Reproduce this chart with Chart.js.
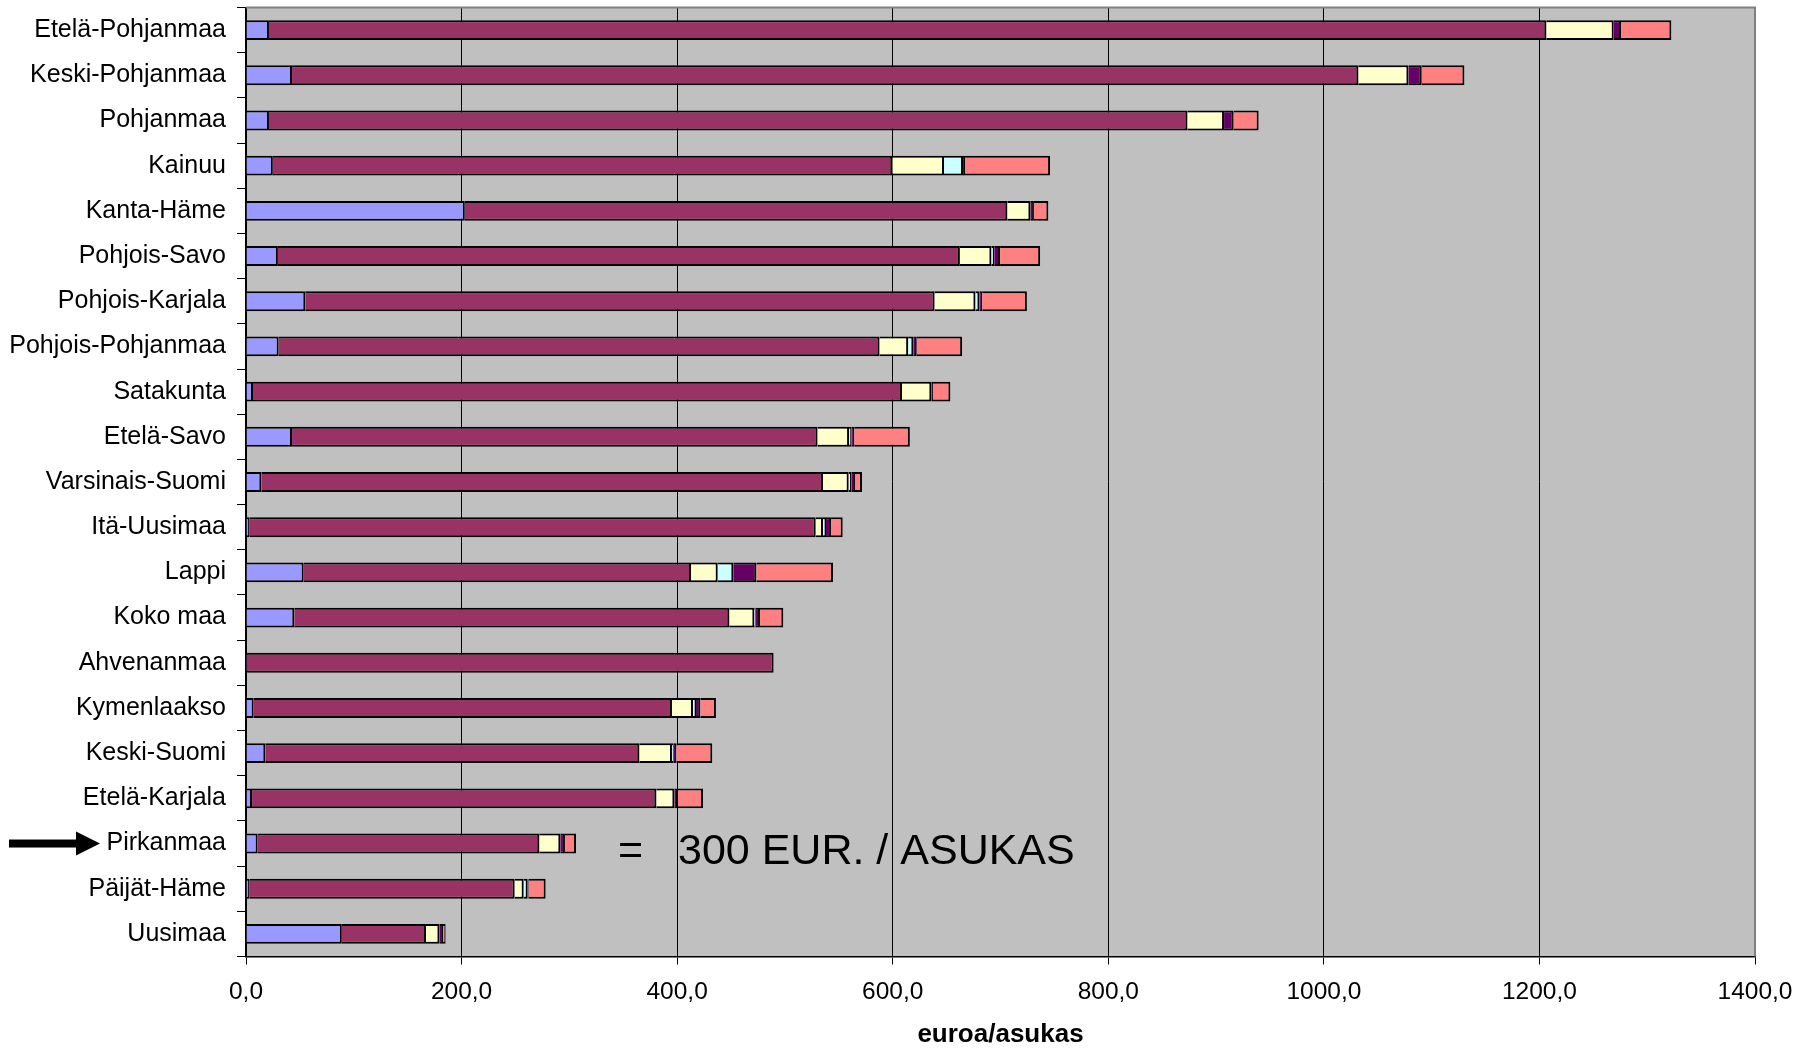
<!DOCTYPE html>
<html>
<head>
<meta charset="utf-8">
<script src="https://cdn.jsdelivr.net/npm/chart.js@4.4.0/dist/chart.umd.min.js"></script>
<style>
  body{ margin:0; background:#fff; }
  canvas{ display:block; }
</style>
</head>
<body>
<canvas id="myChart" width="1809" height="1050"></canvas>
<script>
// maakunnat, ylhäältä alas
const regions = [
  "Etelä-Pohjanmaa", "Keski-Pohjanmaa", "Pohjanmaa", "Kainuu", "Kanta-Häme",
  "Pohjois-Savo", "Pohjois-Karjala", "Pohjois-Pohjanmaa", "Satakunta", "Etelä-Savo",
  "Varsinais-Suomi", "Itä-Uusimaa", "Lappi", "Koko maa", "Ahvenanmaa",
  "Kymenlaakso", "Keski-Suomi", "Etelä-Karjala", "Pirkanmaa", "Päijät-Häme", "Uusimaa"
];

// euroa/asukas, luettu kuvasta
const sarja1 = [21.3, 42.7, 21.3, 24.9, 203.0, 29.6, 55.0, 30.3, 6.5, 42.7, 14.2, 3.4, 53.5, 44.8, 1.8, 7.1, 17.9, 5.6, 10.8, 3.4, 88.9];
const sarja2 = [1185.1, 989.3, 852.1, 574.7, 503.3, 632.7, 583.8, 557.4, 602.1, 487.5, 521.1, 525.1, 359.4, 403.6, 487.7, 388.1, 347.0, 375.1, 261.3, 245.8, 78.1];
const sarja3 = [62.5, 46.4, 34.0, 48.0, 21.4, 29.2, 37.9, 26.6, 27.2, 29.3, 23.8, 6.8, 24.7, 23.2, 0, 19.5, 30.3, 16.7, 19.5, 8.4, 12.4];
const sarja4 = [0, 0, 0, 17.6, 0, 2.7, 3.7, 4.8, 0, 2.1, 2.5, 2.8, 14.5, 1.2, 0, 2.8, 1.6, 0, 0, 3.7, 0];
const sarja5 = [6.8, 12.4, 8.9, 1.9, 3.3, 5.4, 2.6, 3.2, 1.6, 2.7, 3.4, 4.7, 21.4, 4.1, 0, 4.0, 2.5, 3.1, 4.3, 0.9, 3.4];
const sarja6 = [46.7, 39.6, 23.2, 78.9, 13.4, 37.2, 41.5, 42.1, 16.1, 51.6, 6.5, 10.8, 71.1, 21.6, 0, 14.5, 33.3, 23.5, 10.3, 15.8, 2.4];

const xTickLabels = ["0,0", "200,0", "400,0", "600,0", "800,0", "1000,0", "1200,0", "1400,0"];
const markedRegion = "Pirkanmaa";
const noteText = "300 EUR. / ASUKAS";

const FONT = "'Liberation Sans', Arial, sans-serif";

function makeDataset( label, values, color ){
  return {
    label: label,
    data: values,
    backgroundColor: color,
    borderColor: "#000",
    borderWidth: 2,
    barPercentage: 0.44,
    categoryPercentage: 1.0
  };
}

// harmaa piirtoalue + kehys
const plotArea = {
  id: "plotArea",
  beforeDraw( chart ){
    let a = chart.chartArea;
    let ctx = chart.ctx;
    ctx.save();
    ctx.fillStyle = "#c0c0c0";
    ctx.fillRect( a.left, a.top, a.right - a.left, a.bottom - a.top );
    ctx.restore();
  },
  afterDraw( chart ){
    let a = chart.chartArea;
    let ctx = chart.ctx;
    ctx.save();
    ctx.strokeStyle = "#808080";
    ctx.lineWidth = 2;
    ctx.beginPath();
    ctx.moveTo( a.left, a.top );
    ctx.lineTo( a.right, a.top );
    ctx.lineTo( a.right, a.bottom );
    ctx.stroke();
    ctx.restore();
  }
};

// nuoli ja teksti Pirkanmaan kohdalla
const note = {
  id: "note",
  afterDraw( chart ){
    let ctx = chart.ctx;
    let y = chart.scales.y.getPixelForValue( regions.indexOf( markedRegion ) );
    ctx.save();
    ctx.fillStyle = "#000";
    ctx.fillRect( 9, y - 4, 68, 8 );
    ctx.beginPath();
    ctx.moveTo( 76, y - 12 );
    ctx.lineTo( 100, y );
    ctx.lineTo( 76, y + 12 );
    ctx.closePath();
    ctx.fill();
    ctx.font = "43px " + FONT;
    ctx.textBaseline = "alphabetic";
    ctx.textAlign = "left";
    ctx.fillText( "=", 618, y + 20 );
    ctx.fillText( noteText, 678, y + 20 );
    ctx.restore();
  }
};

window.addEventListener("load", () => {
  let ctx = document.getElementById("myChart").getContext("2d");
  let config = {
    type: "bar",
    data: {
      labels: regions,
      datasets: [
        makeDataset( "Sarja1", sarja1, "#9999ff" ),
        makeDataset( "Sarja2", sarja2, "#993366" ),
        makeDataset( "Sarja3", sarja3, "#ffffcc" ),
        makeDataset( "Sarja4", sarja4, "#ccffff" ),
        makeDataset( "Sarja5", sarja5, "#660066" ),
        makeDataset( "Sarja6", sarja6, "#ff8080" )
      ]
    },
    options: {
      indexAxis: "y",
      responsive: false,
      animation: false,
      devicePixelRatio: 1,
      layout: { padding: { top: 7.5, right: 54, left: 0, bottom: 0 } },
      plugins: {
        legend: { display: false },
        title: { display: false },
        tooltip: { enabled: false }
      },
      scales: {
        x: {
          stacked: true,
          min: 0,
          max: 1400,
          ticks: {
            stepSize: 200,
            color: "#000",
            font: { family: FONT, size: 24.5 },
            padding: 13,
            maxRotation: 0,
            callback: ( v, i ) => xTickLabels[i]
          },
          grid: { color: "#000", lineWidth: 1, tickLength: 8 },
          border: { color: "#000", width: 1.5 },
          title: {
            display: true,
            text: "euroa/asukas",
            color: "#000",
            font: { family: FONT, size: 26, weight: "bold" },
            padding: { top: 0, bottom: 0 }
          },
          afterFit( scale ){ scale.height = 93.5; }
        },
        y: {
          stacked: true,
          ticks: {
            color: "#000",
            font: { family: FONT, size: 25 },
            padding: 11,
            autoSkip: false
          },
          grid: { drawOnChartArea: false, color: "#000", tickLength: 9 },
          border: { color: "#000", width: 1.5 },
          afterFit( scale ){
            scale.width = 246;
            scale.paddingTop = 0;
            scale.paddingBottom = 0;
          }
        }
      }
    },
    plugins: [ plotArea, note ]
  };
  new Chart( ctx, config );
});
</script>
</body>
</html>
